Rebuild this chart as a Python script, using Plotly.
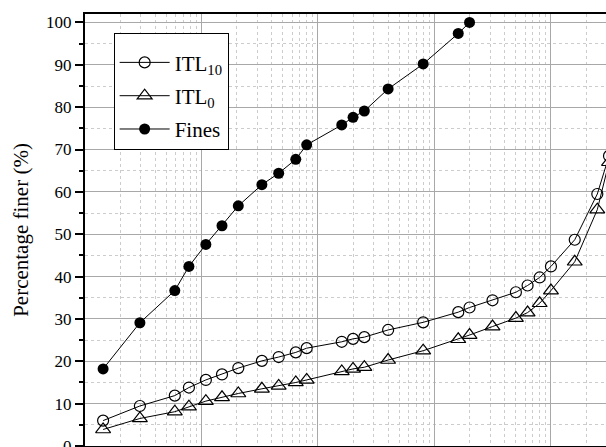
import plotly.graph_objects as go

# Particle size (mm), log scale
sizes = [0.00143, 0.00296, 0.0059, 0.0078, 0.0109, 0.015, 0.0207, 0.033, 0.046,
         0.0645, 0.08, 0.16, 0.2, 0.25, 0.4, 0.8, 1.6, 2.0, 3.15, 5, 6.3, 8, 10,
         16, 25, 31.5]

itl10 = [6.0, 9.45, 11.9, 13.8, 15.6, 16.9, 18.4, 20.1, 21.0, 22.1, 23.1, 24.6,
         25.3, 25.7, 27.4, 29.2, 31.6, 32.7, 34.4, 36.3, 37.9, 39.8, 42.4, 48.7,
         59.5, 68.5]
itl0 = [3.9, 6.5, 8.1, 9.3, 10.6, 11.5, 12.4, 13.5, 14.2, 15.0, 15.6, 17.6,
        18.2, 18.6, 20.3, 22.5, 25.2, 26.2, 28.2, 30.2, 31.5, 33.7, 36.7, 43.5,
        55.8, 67.0]
fines = [18.2, 29.1, 36.7, 42.4, 47.6, 52.0, 56.7, 61.7, 64.4, 67.7, 71.1, 75.8,
         77.6, 79.1, 84.3, 90.2, 97.4, 100.0]

series_names = ["ITL<sub>10</sub>", "ITL<sub>0</sub>", "Fines"]
y_ticks = [0, 10, 20, 30, 40, 50, 60, 70, 80, 90, 100]

FONT = "Liberation Serif"

fig = go.Figure()
fig.add_trace(go.Scatter(
    x=sizes, y=itl10, name=series_names[0], legendgroup="a", mode="lines+markers",
    line=dict(color="black", width=1),
    marker=dict(symbol="circle-open", size=11, color="black", line=dict(width=1.2))))
fig.add_trace(go.Scatter(
    x=sizes, y=itl0, name=series_names[1], legendgroup="b", mode="lines+markers",
    line=dict(color="black", width=1),
    marker=dict(symbol="triangle-up-open", size=13, color="black", line=dict(width=1.2))))
fig.add_trace(go.Scatter(
    x=sizes[:len(fines)], y=fines, name=series_names[2], legendgroup="c", mode="lines+markers",
    line=dict(color="black", width=1),
    marker=dict(symbol="circle", size=11, color="black")))

fig.update_layout(
    width=606, height=447,
    margin=dict(l=85, r=0, t=14, b=1, autoexpand=False),
    paper_bgcolor="white", plot_bgcolor="white",
    font=dict(family=FONT, size=17, color="black"),
    showlegend=True,
    legend=dict(
        x=0.055, y=0.955, xanchor="left", yanchor="top",
        bgcolor="white", bordercolor="black", borderwidth=1,
        font=dict(family=FONT, size=21, color="black"),
        itemwidth=50, tracegroupgap=3,
        title=dict(text=" ", font=dict(size=6)),
    ),
)

fig.update_xaxes(
    type="log", range=[-3, 1.4725], automargin=False,
    showline=True, linecolor="black", linewidth=1.5, mirror=True,
    showticklabels=False, ticks="",
    showgrid=True, gridcolor="#a8a8a8", gridwidth=1,
    dtick=1,
    minor=dict(dtick="D1", showgrid=True, gridcolor="#cccccc", griddash="dot", gridwidth=1, ticks=""),
    zeroline=False,
)
fig.update_yaxes(
    range=[0, 102], automargin=False,
    tickvals=y_ticks, ticktext=[str(v) for v in y_ticks],
    ticklabeloverflow="allow",
    showline=True, linecolor="black", linewidth=2, mirror=False,
    ticks="outside", ticklen=8, tickwidth=1.5, tickcolor="black",
    showgrid=True, gridcolor="#a8a8a8", gridwidth=1,
    minor=dict(dtick=5, tick0=0, ticks="outside", ticklen=4, tickwidth=1.5, tickcolor="black",
               showgrid=True, gridcolor="#cccccc", griddash="dot", gridwidth=1),
    tickfont=dict(family=FONT, size=17, color="black"),
    title=dict(text="Percentage finer (%)", font=dict(family=FONT, size=21, color="black"), standoff=12),
    zeroline=False,
)

fig.write_html("out.html", config={"displayModeBar": False},
               post_script="document.body.style.margin='0';document.body.style.overflow='hidden';")
